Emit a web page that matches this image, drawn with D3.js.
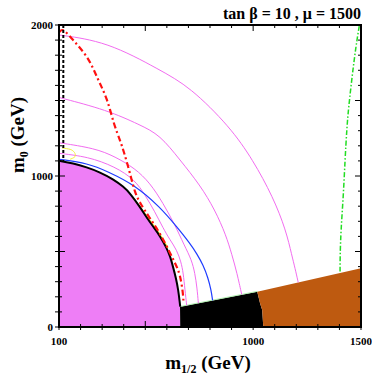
<!DOCTYPE html>
<html>
<head>
<meta charset="utf-8">
<script src="https://cdn.jsdelivr.net/npm/d3@7"></script>
<style>
  body { margin: 0; background: #fff; }
  text { font-family: "Liberation Serif", "DejaVu Serif", serif; font-weight: bold; }
</style>
</head>
<body>
<svg width="372" height="382"></svg>
<script>
// m1/2 , m0 in GeV
var excluded = [[100,1101],[166,1084],[228,1058],[290,1025],[352,978],[399,929],[430,885],[476,793],
  [507,724],[537,664],[568,603],[599,523],[615,470],[630,391],[642,325],[653,245],[660,160],[662,134]];
var blackZone = [[661,134],[1019,234],[1032,157],[1042,113],[1047,0],[662,0]];
var brownZone = [[1019,234],[1500,389],[1500,0],[1047,0],[1042,113],[1032,157]];

var pink1 = [[100,1150],[234,1128],[360,1062],[452,974],[499,874],[545,762],[582,656],[615,576],
  [646,510],[666,430],[676,358],[684,245],[692,143]];
var pink2 = [[100,1220],[267,1184],[360,1128],[452,1051],[522,954],[582,821],[638,675],[680,543],
  [715,444],[730,356],[740,258],[746,158]];
var pink3 = [[100,1520],[323,1437],[476,1338],[568,1272],[661,1106],[754,940],[823,775],[874,609],
  [902,477],[925,358],[947,215]];
var pink4 = [[100,1934],[323,1890],[568,1702],[707,1590],[893,1325],[999,1106],[1092,861],[1152,642],
  [1180,470],[1194,391],[1209,295]];
var blue = [[100,1111],[234,1084],[327,1029],[452,940],[568,795],[647,662],[707,554],[740,483],
  [768,411],[791,325],[805,245],[812,176]];
var red = [[100,1950],[109,1967],[123,1970],[165,1901],[239,1782],[281,1636],[323,1517],[355,1338],
  [383,1238],[401,1159],[429,1020],[452,887],[476,821],[517,729],[568,623],[615,490],[642,411],
  [661,351],[675,225],[677,166]];
var green = [[1492,1993],[1481,1901],[1464,1724],[1441,1437],[1434,1305],[1426,1106],[1418,863],
  [1407,642],[1403,466],[1403,360]];
var yellow = [[114,1185],[128,1183],[159,1172],[174,1150],[174,1128],[151,1111]];
var yellow2 = [[440,862],[480,786],[515,720],[545,662],[575,600],[605,522]];
var charginoLimit = [[120,2000],[120,1095]];
var relicEdge = [[663,136],[1019,236]];

var xTicks = d3.range(100, 1501, 100),
    yTicks = d3.range(0, 2001, 100),
    xLabels = [100, 1000, 1500],
    yLabels = [0, 1000, 2000];

var svg = d3.select("svg"),
    x0 = 59, x1 = 361, yTop = 25, yBot = 327;

var x = d3.scaleLinear().domain([100, 1500]).range([x0, x1]);
var y = d3.scaleLinear().domain([0, 2000]).range([yBot, yTop]);

var line = d3.line().x(function(d) { return x(d[0]); }).y(function(d) { return y(d[1]); });
var smooth = d3.line().curve(d3.curveBasis).x(function(d) { return x(d[0]); }).y(function(d) { return y(d[1]); });

svg.append("defs").append("clipPath").attr("id", "clip")
  .append("rect").attr("x", x0).attr("y", yTop).attr("width", x1 - x0).attr("height", yBot - yTop);

var g = svg.append("g").attr("clip-path", "url(#clip)");

// filled regions
var edge = smooth(excluded);
g.append("path").attr("d", edge + "L" + x(662) + "," + y(0) + "L" + x(100) + "," + y(0) + "Z").attr("fill", "#ee7ef6");
g.append("path").attr("d", line(blackZone)).attr("fill", "#000");
g.append("path").attr("d", line(brownZone)).attr("fill", "#be5a10");
g.append("path").attr("d", line(relicEdge)).attr("fill", "none").attr("stroke", "#b0f0b0").attr("stroke-width", 1);

// contours
[pink1, pink2, pink3, pink4].forEach(function(d) {
  g.append("path").attr("d", smooth(d)).attr("fill", "none").attr("stroke", "#f26cf0").attr("stroke-width", 1);
});
g.append("path").attr("d", d3.line().curve(d3.curveCatmullRom).x(function(d) { return x(d[0]); }).y(function(d) { return y(d[1]); })(yellow))
  .attr("fill", "none").attr("stroke", "#f4f040").attr("stroke-width", 1);
g.append("path").attr("d", smooth(yellow2)).attr("fill", "none").attr("stroke", "#f4f040").attr("stroke-width", 1.5);
g.append("path").attr("d", smooth(blue)).attr("fill", "none").attr("stroke", "#1e3cff").attr("stroke-width", 1.2);
g.append("path").attr("d", edge).attr("fill", "none").attr("stroke", "#000").attr("stroke-width", 2);
g.append("path").attr("d", smooth(red)).attr("fill", "none").attr("stroke", "#ff1010")
  .attr("stroke-width", 2.2).attr("stroke-dasharray", "6,3,2,3");
g.append("path").attr("d", smooth(green)).attr("fill", "none").attr("stroke", "#22dd22")
  .attr("stroke-width", 1.5).attr("stroke-dasharray", "5,2,1.5,2");
g.append("path").attr("d", line(charginoLimit)).attr("fill", "none").attr("stroke", "#000")
  .attr("stroke-width", 2).attr("stroke-dasharray", "3,2");

// ticks
var ticks = svg.append("g").attr("stroke", "#000").attr("stroke-width", 1);
xTicks.forEach(function(v) {
  var len = v % 500 == 0 ? 6 : 3;
  ticks.append("line").attr("x1", x(v)).attr("x2", x(v)).attr("y1", yBot + 3).attr("y2", yBot - len);
  ticks.append("line").attr("x1", x(v)).attr("x2", x(v)).attr("y1", yTop).attr("y2", yTop + len);
});
yTicks.forEach(function(v) {
  var len = v % 500 == 0 ? 6 : 3;
  ticks.append("line").attr("y1", y(v)).attr("y2", y(v)).attr("x1", x0 - 4).attr("x2", x0 + len);
  ticks.append("line").attr("y1", y(v)).attr("y2", y(v)).attr("x1", x1).attr("x2", x1 - len);
});

svg.append("rect").attr("x", x0).attr("y", yTop).attr("width", x1 - x0).attr("height", yBot - yTop)
  .attr("fill", "none").attr("stroke", "#000").attr("stroke-width", 2);

// labels
svg.selectAll(".xl").data(xLabels).enter().append("text")
  .attr("x", function(d) { return x(d); }).attr("y", 345)
  .attr("text-anchor", "middle").attr("font-size", 11).text(function(d) { return d; });
svg.selectAll(".yl").data(yLabels).enter().append("text")
  .attr("x", 53).attr("y", function(d) { return y(d) + 4; })
  .attr("text-anchor", "end").attr("font-size", 11).text(function(d) { return d; });

var xt = svg.append("text").attr("x", 208).attr("y", 369).attr("text-anchor", "middle").attr("font-size", 19);
xt.append("tspan").text("m");
xt.append("tspan").attr("font-size", 12).attr("dy", 4).text("1/2");
xt.append("tspan").attr("dy", -4).text(" (GeV)");

var yt = svg.append("text").attr("transform", "translate(24,135) rotate(-90)").attr("text-anchor", "middle").attr("font-size", 19);
yt.append("tspan").text("m");
yt.append("tspan").attr("font-size", 12).attr("dy", 4).text("0");
yt.append("tspan").attr("dy", -4).text(" (GeV)");

svg.append("text").attr("x", 361).attr("y", 19).attr("text-anchor", "end").attr("font-size", 16)
  .text("tan \u03b2 = 10 , \u03bc = 1500");
</script>
</body>
</html>
